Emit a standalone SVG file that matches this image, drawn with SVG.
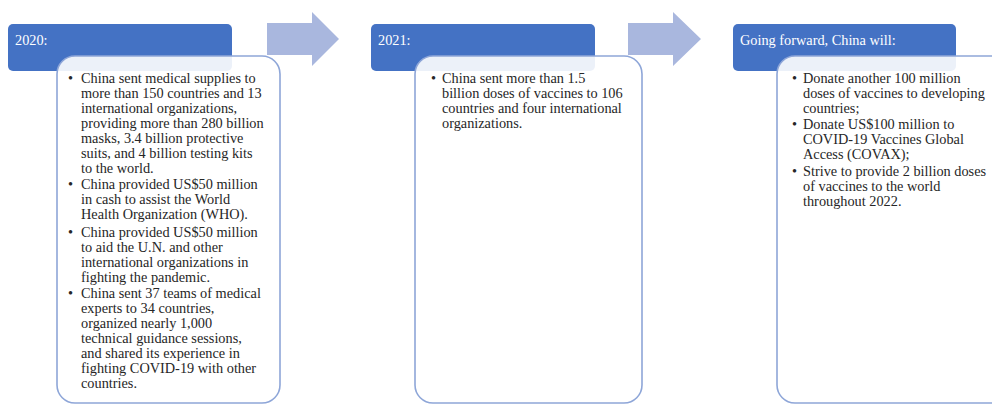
<svg xmlns="http://www.w3.org/2000/svg" width="992" height="405" viewBox="0 0 992 405">
<style>
.hdr{fill:#4472C4;}
.box{fill:#ffffff;fill-opacity:0.9;stroke:#8EA6D8;stroke-width:1.6;}
.arrow{fill:#A9B7DE;}
.ht{font-family:"Liberation Serif","Times New Roman",serif;font-size:14.3px;fill:#ffffff;}
.bt{font-family:"Liberation Serif","Times New Roman",serif;font-size:14.3px;fill:#262626;}
</style>
<rect width="992" height="405" fill="#ffffff"/>
<g id="connectors">
<path class="arrow" d="M267,23 H312 V12 L339,39 L312,66 V55 H267 Z"/>
<path class="arrow" d="M628,23 H673 V12 L701,39 L673,66 V55 H628 Z"/>
</g>
<g id="stage2020">
<rect class="hdr" x="8" y="24" width="224" height="47" rx="5"/>
<text class="ht" x="15" y="45">2020:</text>
</g>
<g id="details2020">
<rect class="box" x="57" y="56" width="223" height="347" rx="18"/>
<text class="bt">
<tspan x="68" y="82.5">•</tspan><tspan x="81" y="82.5">China sent medical supplies to</tspan>
<tspan x="81" y="97.5">more than 150 countries and 13</tspan>
<tspan x="81" y="112.5">international organizations,</tspan>
<tspan x="81" y="127.5">providing more than 280 billion</tspan>
<tspan x="81" y="142.5">masks, 3.4 billion protective</tspan>
<tspan x="81" y="157.5">suits, and 4 billion testing kits</tspan>
<tspan x="81" y="172.5">to the world.</tspan>
<tspan x="68" y="189.2">•</tspan><tspan x="81" y="189.2">China provided US$50 million</tspan>
<tspan x="81" y="204.2">in cash to assist the World</tspan>
<tspan x="81" y="219.2">Health Organization (WHO).</tspan>
<tspan x="68" y="236.5">•</tspan><tspan x="81" y="236.5">China provided US$50 million</tspan>
<tspan x="81" y="251.5">to aid the U.N. and other</tspan>
<tspan x="81" y="266.5">international organizations in</tspan>
<tspan x="81" y="281.5">fighting the pandemic.</tspan>
<tspan x="68" y="298.2">•</tspan><tspan x="81" y="298.2">China sent 37 teams of medical</tspan>
<tspan x="81" y="313.2">experts to 34 countries,</tspan>
<tspan x="81" y="328.2">organized nearly 1,000</tspan>
<tspan x="81" y="343.2">technical guidance sessions,</tspan>
<tspan x="81" y="358.2">and shared its experience in</tspan>
<tspan x="81" y="373.2">fighting COVID-19 with other</tspan>
<tspan x="81" y="388.2">countries.</tspan>
</text>
</g>
<g id="stage2021">
<rect class="hdr" x="371" y="24" width="224" height="47" rx="5"/>
<text class="ht" x="378" y="45">2021:</text>
</g>
<g id="details2021">
<rect class="box" x="415" y="56" width="227" height="347" rx="18"/>
<text class="bt">
<tspan x="431" y="82.5">•</tspan><tspan x="442" y="82.5">China sent more than 1.5</tspan>
<tspan x="442" y="97.5">billion doses of vaccines to 106</tspan>
<tspan x="442" y="112.5">countries and four international</tspan>
<tspan x="442" y="127.5">organizations.</tspan>
</text>
</g>
<g id="stageFuture">
<rect class="hdr" x="733" y="24" width="223" height="47" rx="5"/>
<text class="ht" x="740" y="45">Going forward, China will:</text>
</g>
<g id="detailsFuture">
<rect class="box" x="777" y="56" width="232" height="347" rx="18"/>
<text class="bt">
<tspan x="792" y="82.5">•</tspan><tspan x="803" y="82.5">Donate another 100 million</tspan>
<tspan x="803" y="97.5">doses of vaccines to developing</tspan>
<tspan x="803" y="112.5">countries;</tspan>
<tspan x="792" y="129.2">•</tspan><tspan x="803" y="129.2">Donate US$100 million to</tspan>
<tspan x="803" y="144.2">COVID-19 Vaccines Global</tspan>
<tspan x="803" y="159.2">Access (COVAX);</tspan>
<tspan x="792" y="175.9">•</tspan><tspan x="803" y="175.9">Strive to provide 2 billion doses</tspan>
<tspan x="803" y="190.9">of vaccines to the world</tspan>
<tspan x="803" y="205.9">throughout 2022.</tspan>
</text>
</g>
</svg>
